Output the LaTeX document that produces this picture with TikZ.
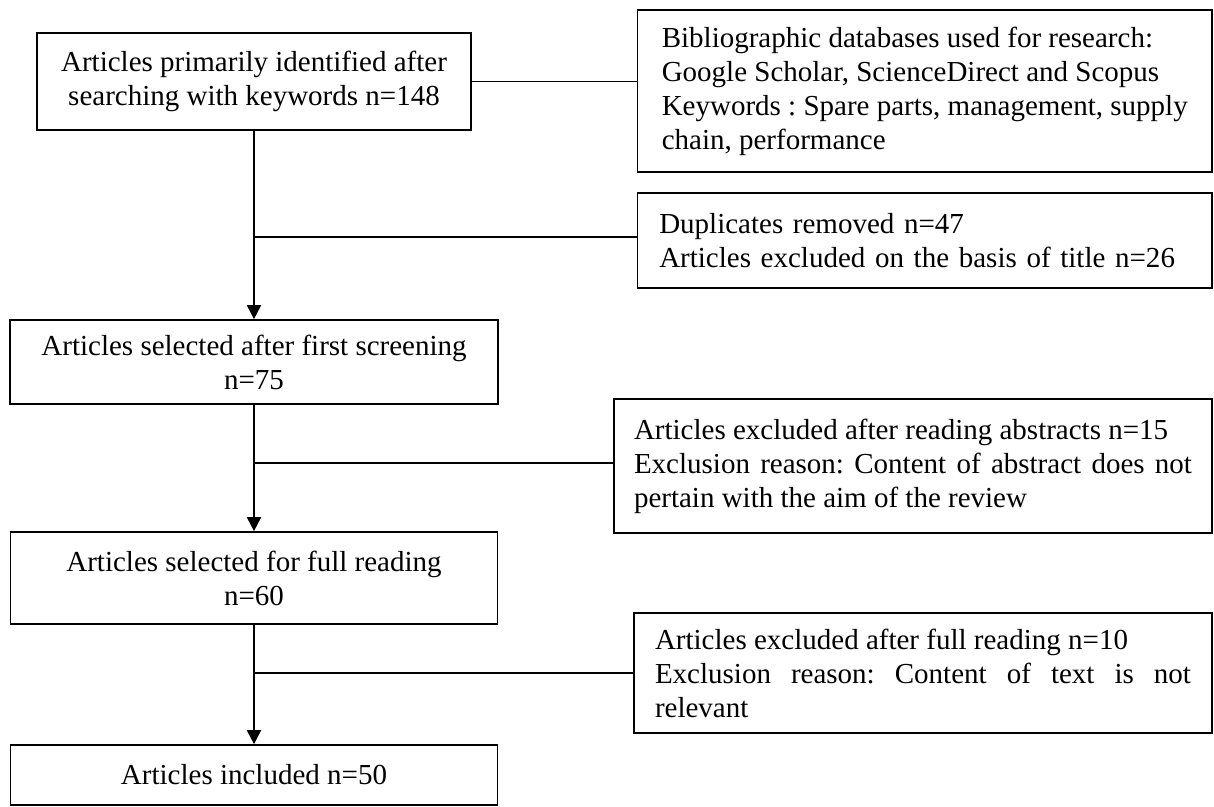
\documentclass[tikz,border=0pt]{standalone}
\usepackage{fontspec}
\setmainfont{Liberation Serif}
\usetikzlibrary{arrows.meta}
\setlength{\parindent}{0pt}
\hyphenpenalty=10000
\exhyphenpenalty=10000
\tolerance=10000
\frenchspacing
\begin{document}
\begin{tikzpicture}[x=1pt,y=-1pt,
  box/.style={draw, line width=1.7pt, inner sep=0pt, font=\fontsize{29}{34}\selectfont\frenchspacing},
  leftbox/.style={box, align=center},
  rightbox/.style={box, align=left},
  justbox/.style={box, align=justify},
  flow/.style={line width=2pt, -{Triangle[width=14pt,length=14pt]}},
  link/.style={line width=1.8pt}]
\useasboundingbox (0,0) rectangle (1214,806);

% main column
\node[leftbox, minimum width=434pt, minimum height=97pt] (b1) at (254,81.5)
  {Articles primarily identified after\\searching with keywords n=148};
\node[leftbox, minimum width=488pt, minimum height=84pt] (b3) at (254,362)
  {Articles selected after first screening\\n=75};
\node[leftbox, minimum width=487pt, minimum height=92pt] (b4) at (254,578)
  {Articles selected for full reading\\n=60};
\node[leftbox, minimum width=487pt, minimum height=60pt] (b5) at (254,775)
  {Articles included n=50};

% side boxes
\node[rightbox, minimum width=574.5pt, minimum height=162pt] (bib) at (924.75,91)
  {Bibliographic databases used for research:\\Google Scholar, ScienceDirect and Scopus\\Keywords : Spare parts, management, supply\\chain, performance};
\node[rightbox, text width=531pt, minimum width=574.5pt, minimum height=95pt] (dup) at (924.75,240.5)
  {Duplicates removed n=47\\Articles excluded on the basis of title n=26};
\node[justbox, text width=558pt, minimum width=598pt, minimum height=134pt] (abs) at (913,466)
  {Articles excluded after reading abstracts n=15\par Exclusion reason: Content of abstract does not pertain with the aim of the review};
\node[justbox, text width=536pt, minimum width=578pt, minimum height=120pt] (full) at (923,673)
  {Articles excluded after full reading n=10\par Exclusion reason: Content of text is not relevant};

% flow arrows
\draw[flow] (b1.south) -- (b3.north);
\draw[flow] (b3.south) -- (b4.north);
\draw[flow] (b4.south) -- (b5.north);

% side links
\coordinate (j1) at (254,237);
\coordinate (j2) at (254,463);
\coordinate (j3) at (254,673);
\draw[link] (b1.east) -- (b1.east -| bib.west);
\draw[link] (j1) -- (j1 -| dup.west);
\draw[link] (j2) -- (j2 -| abs.west);
\draw[link] (j3) -- (j3 -| full.west);
\end{tikzpicture}
\end{document}
